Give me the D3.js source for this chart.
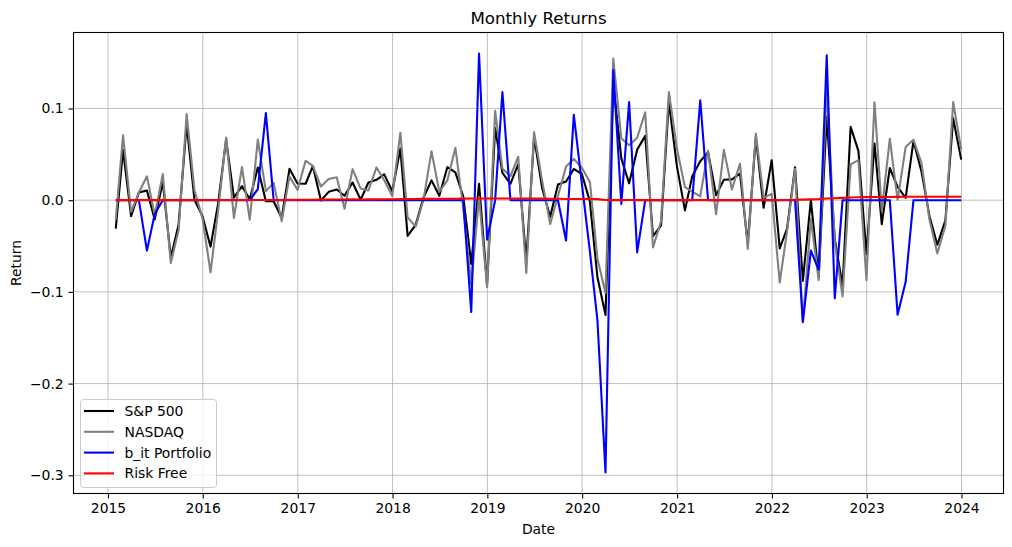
<!DOCTYPE html>
<html>
<head>
<meta charset="utf-8">
<script src="https://cdn.jsdelivr.net/npm/d3@7"></script>
<style>
  html, body { margin: 0; padding: 0; background: #fff; }
  svg { display: block; font-family: "DejaVu Sans", sans-serif; }
</style>
</head>
<body>
<svg id="chart" width="1012" height="547"></svg>
<script>
// ---- Data (monthly, month-end, Jan 2015 .. Dec 2023) ----
const startYear = 2015;
const nMonths = 108;

const sp500 = [
  -0.0310, 0.0549, -0.0174, 0.0085, 0.0105, -0.0210, 0.0197, -0.0626, -0.0264, 0.0830, 0.0005, -0.0175,
  -0.0507, -0.0041, 0.0660, 0.0027, 0.0153, 0.0009, 0.0356, -0.0012, -0.0012, -0.0194, 0.0342, 0.0182,
  0.0179, 0.0372, -0.0004, 0.0091, 0.0116, 0.0048, 0.0193, 0.0005, 0.0193, 0.0222, 0.0281, 0.0098,
  0.0562, -0.0389, -0.0269, 0.0027, 0.0216, 0.0048, 0.0360, 0.0303, 0.0043, -0.0694, 0.0179, -0.0918,
  0.0787, 0.0297, 0.0179, 0.0393, -0.0658, 0.0689, 0.0131, -0.0181, 0.0172, 0.0204, 0.0340, 0.0286,
  -0.0016, -0.0841, -0.1251, 0.1268, 0.0453, 0.0184, 0.0551, 0.0701, -0.0392, -0.0277, 0.1075, 0.0371,
  -0.0111, 0.0261, 0.0424, 0.0524, 0.0055, 0.0222, 0.0227, 0.0290, -0.0476, 0.0691, -0.0083, 0.0436,
  -0.0526, -0.0314, 0.0358, -0.0880, 0.0001, -0.0839, 0.0911, -0.0424, -0.0934, 0.0799, 0.0538, -0.0590,
  0.0618, -0.0261, 0.0351, 0.0146, 0.0025, 0.0647, 0.0311, -0.0177, -0.0487, -0.0220, 0.0892, 0.0442
];

const nasdaq = [
  -0.0213, 0.0708, -0.0126, 0.0083, 0.0260, -0.0164, 0.0284, -0.0686, -0.0327, 0.0938, 0.0109, -0.0198,
  -0.0786, -0.0121, 0.0684, -0.0194, 0.0362, -0.0213, 0.0660, 0.0099, 0.0189, -0.0231, 0.0259, 0.0112,
  0.0430, 0.0375, 0.0148, 0.0230, 0.0250, -0.0094, 0.0338, 0.0127, 0.0105, 0.0357, 0.0217, 0.0043,
  0.0736, -0.0187, -0.0288, 0.0004, 0.0532, 0.0092, 0.0215, 0.0571, -0.0078, -0.0920, 0.0034, -0.0948,
  0.0974, 0.0344, 0.0261, 0.0474, -0.0793, 0.0742, 0.0211, -0.0260, 0.0046, 0.0366, 0.0450, 0.0354,
  0.0199, -0.0638, -0.1012, 0.1545, 0.0675, 0.0599, 0.0682, 0.0959, -0.0516, -0.0229, 0.1180, 0.0565,
  0.0142, 0.0093, 0.0041, 0.0540, -0.0153, 0.0549, 0.0116, 0.0400, -0.0531, 0.0727, 0.0025, 0.0069,
  -0.0898, -0.0343, 0.0341, -0.1326, -0.0205, -0.0871, 0.1235, -0.0464, -0.1050, 0.0390, 0.0437, -0.0873,
  0.1068, -0.0111, 0.0669, 0.0004, 0.0580, 0.0659, 0.0405, -0.0217, -0.0581, -0.0278, 0.1070, 0.0552
];

const portfolio = [
  0, 0, 0, 0, -0.055, -0.015, 0, 0, 0, 0, 0, 0,
  0, 0, 0, 0, 0, 0, 0.012, 0.095, 0, 0, 0, 0,
  0, 0, 0, 0, 0, 0, 0, 0, 0, 0, 0, 0,
  0, 0, 0, 0, 0, 0, 0, 0, 0, -0.122, 0.160, -0.043,
  0, 0.118, 0, 0, 0, 0, 0, 0, 0, -0.044, 0.093, 0.018,
  -0.056, -0.131, -0.297, 0.142, -0.004, 0.107, -0.057, 0, 0, 0, 0, 0,
  0, 0, 0.109, 0, 0, 0, 0, 0, 0, 0, 0, 0,
  0, 0, 0, -0.133, -0.055, -0.076, 0.158, -0.107, 0, 0, 0, 0,
  0, 0, 0, -0.125, -0.089, 0, 0, 0, 0, 0, 0, 0
];

const riskFree = [
  0.00002, 0.00002, 0.00003, 0.00002, 0.00002, 0.00002, 0.00003, 0.00006, 0.00002, 0.00002, 0.00010, 0.00019,
  0.00025, 0.00026, 0.00024, 0.00019, 0.00021, 0.00021, 0.00025, 0.00024, 0.00023, 0.00026, 0.00036, 0.00040,
  0.00041, 0.00043, 0.00060, 0.00064, 0.00071, 0.00079, 0.00084, 0.00081, 0.00083, 0.00086, 0.00099, 0.00105,
  0.00111, 0.00126, 0.00136, 0.00140, 0.00146, 0.00150, 0.00155, 0.00159, 0.00171, 0.00181, 0.00186, 0.00188,
  0.00189, 0.00190, 0.00190, 0.00191, 0.00186, 0.00176, 0.00165, 0.00154, 0.00150, 0.00130, 0.00123, 0.00123,
  0.00122, 0.00120, 0.00024, 0.00011, 0.00010, 0.00012, 0.00010, 0.00009, 0.00009, 0.00008, 0.00008, 0.00007,
  0.00007, 0.00003, 0.00002, 0.00001, 0.00001, 0.00004, 0.00004, 0.00004, 0.00004, 0.00004, 0.00004, 0.00005,
  0.00012, 0.00026, 0.00042, 0.00061, 0.00090, 0.00120, 0.00184, 0.00215, 0.00252, 0.00300, 0.00325, 0.00335,
  0.00345, 0.00350, 0.00355, 0.00365, 0.00375, 0.00378, 0.00380, 0.00380, 0.00380, 0.00380, 0.00378, 0.00375
];

const yTickValues = [-0.3, -0.2, -0.1, 0.0, 0.1];
const seriesNames = ["S&P 500", "NASDAQ", "b_it Portfolio", "Risk Free"];
const seriesColors = ["#000000", "#808080", "#0000ff", "#ff0000"];

// ---- Layout ----
const W = 1012, H = 547;
const margin = { left: 73.5, right: 8.5, top: 32.5, bottom: 53.5 };
const iw = W - margin.left - margin.right;
const ih = H - margin.top - margin.bottom;

// month-end dates
const dates = d3.range(nMonths).map(i => new Date(startYear, i + 1, 0));
const seriesData = [sp500, nasdaq, portfolio, riskFree];

const svg = d3.select("#chart");
const g = svg.append("g").attr("transform", `translate(${margin.left},${margin.top})`);

// x scale with 5% padding (matplotlib style)
const t0 = +dates[0], t1 = +dates[dates.length - 1];
const padT = (t1 - t0) * 0.05;
const x = d3.scaleTime().domain([new Date(t0 - padT), new Date(t1 + padT)]).range([0, iw]);

const allVals = seriesData.flat();
const yMin = d3.min(allVals), yMax = d3.max(allVals);
const padY = (yMax - yMin) * 0.05;
const y = d3.scaleLinear().domain([yMin - padY, yMax + padY]).range([ih, 0]);

// grid
const xTicks = d3.range(2015, 2025).map(yr => new Date(yr, 0, 1));
g.append("g").selectAll("line").data(xTicks).join("line")
  .attr("x1", d => x(d)).attr("x2", d => x(d))
  .attr("y1", 0).attr("y2", ih)
  .attr("stroke", "#b0b0b0").attr("stroke-width", 0.8);
g.append("g").selectAll("line").data(yTickValues).join("line")
  .attr("x1", 0).attr("x2", iw)
  .attr("y1", d => y(d)).attr("y2", d => y(d))
  .attr("stroke", "#b0b0b0").attr("stroke-width", 0.8);

// lines
const line = d3.line().x((d, i) => x(dates[i])).y(d => y(d));
seriesData.forEach((s, k) => {
  g.append("path").datum(s)
    .attr("d", line)
    .attr("fill", "none")
    .attr("stroke", seriesColors[k])
    .attr("stroke-width", 2.1)
    .attr("stroke-linejoin", "round")
    .attr("stroke-linecap", "butt");
});

// axes
const fontPx = 13.9;
const xAxis = d3.axisBottom(x).tickValues(xTicks).tickFormat(d3.timeFormat("%Y"))
  .tickSizeInner(4.9).tickSizeOuter(0).tickPadding(4.9);
const yAxis = d3.axisLeft(y).tickValues(yTickValues).tickFormat(d3.format(".1f"))
  .tickSizeInner(4.9).tickSizeOuter(0).tickPadding(4.9);

const gx = g.append("g").attr("transform", `translate(0,${ih})`).call(xAxis);
const gy = g.append("g").call(yAxis);
[gx, gy].forEach(ax => {
  ax.select(".domain").remove();
  ax.selectAll(".tick line").attr("stroke", "#000").attr("stroke-width", 1.1);
  ax.selectAll(".tick text").attr("fill", "#000")
    .style("font-size", fontPx + "px").style("font-family", "DejaVu Sans");
});

// frame
g.append("rect").attr("x", 0).attr("y", 0).attr("width", iw).attr("height", ih)
  .attr("fill", "none").attr("stroke", "#000").attr("stroke-width", 1.1);

// title & labels
svg.append("text").attr("x", margin.left + iw / 2).attr("y", 24)
  .attr("text-anchor", "middle").style("font-size", "16.7px").attr("fill", "#000")
  .text("Monthly Returns");
svg.append("text").attr("x", margin.left + iw / 2).attr("y", 534)
  .attr("text-anchor", "middle").style("font-size", fontPx + "px").attr("fill", "#000")
  .text("Date");
svg.append("text").attr("transform", `translate(21,${margin.top + ih / 2}) rotate(-90)`)
  .attr("text-anchor", "middle").style("font-size", fontPx + "px").attr("fill", "#000")
  .text("Return");

// legend
const lg = svg.append("g").attr("transform", "translate(80.5,399.5)");
lg.append("rect").attr("width", 136).attr("height", 88).attr("rx", 3).attr("ry", 3)
  .attr("fill", "#fff").attr("fill-opacity", 0.8).attr("stroke", "#cccccc").attr("stroke-width", 1);
seriesNames.forEach((name, k) => {
  const yy = 11.5 + k * 20.8;
  lg.append("line").attr("x1", 3.5).attr("x2", 33.5).attr("y1", yy).attr("y2", yy)
    .attr("stroke", seriesColors[k]).attr("stroke-width", 2.1);
  lg.append("text").attr("x", 44).attr("y", yy).attr("dy", "0.36em")
    .style("font-size", fontPx + "px").attr("fill", "#000").text(name);
});
</script>
</body>
</html>
